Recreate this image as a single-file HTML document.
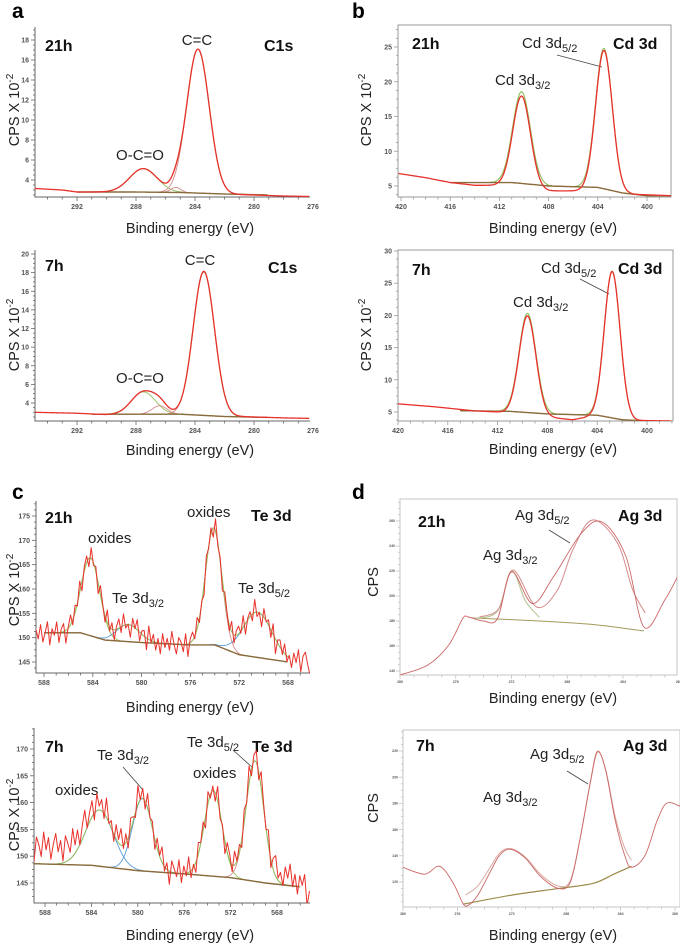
<!DOCTYPE html>
<html><head><meta charset="utf-8">
<style>
html,body{margin:0;padding:0;background:#fff;}
svg{display:block;font-family:"Liberation Sans",sans-serif;}
.lbl{font-size:15px;fill:#222;}
.bold{font-size:16px;font-weight:bold;fill:#111;}
.xt{font-size:14.5px;fill:#222;}
.letter{font-size:21px;font-weight:bold;fill:#000;}
</style></head>
<body>
<svg id="fig" width="680" height="945" viewBox="0 0 680 945">
<!-- panel letters -->
<text class="letter" x="12" y="18">a</text>
<text class="letter" x="352" y="18">b</text>
<text class="letter" x="12" y="499">c</text>
<text class="letter" x="352" y="499">d</text>

<!-- a1 -->
<text class="bold" x="45" y="51">21h</text>
<text class="lbl" x="197" y="45" text-anchor="middle">C=C</text>
<text class="bold" x="264" y="51">C1s</text>
<text class="lbl" x="140" y="160" text-anchor="middle">O-C=O</text>
<text class="xt" x="190" y="233" text-anchor="middle">Binding energy (eV)</text>
<text class="xt" transform="translate(19,110) rotate(-90)" text-anchor="middle">CPS X 10<tspan dy="-6" font-size="10">-2</tspan></text>

<!-- a2 -->
<text class="bold" x="45" y="271">7h</text>
<text class="lbl" x="200" y="265" text-anchor="middle">C=C</text>
<text class="bold" x="268" y="273">C1s</text>
<text class="lbl" x="140" y="383" text-anchor="middle">O-C=O</text>
<text class="xt" x="190" y="455" text-anchor="middle">Binding energy (eV)</text>
<text class="xt" transform="translate(19,335) rotate(-90)" text-anchor="middle">CPS X 10<tspan dy="-6" font-size="10">-2</tspan></text>

<!-- b1 -->
<text class="bold" x="412" y="49">21h</text>
<text class="lbl" x="522" y="48">Cd 3d<tspan dy="4" font-size="11">5/2</tspan></text>
<text class="bold" x="613" y="49">Cd 3d</text>
<text class="lbl" x="495" y="85">Cd 3d<tspan dy="4" font-size="11">3/2</tspan></text>
<line x1="557" y1="55" x2="602" y2="67" stroke="#444" stroke-width="0.8"/>
<text class="xt" x="553" y="233" text-anchor="middle">Binding energy (eV)</text>
<text class="xt" transform="translate(371,110) rotate(-90)" text-anchor="middle">CPS X 10<tspan dy="-6" font-size="10">-2</tspan></text>

<!-- b2 -->
<text class="bold" x="412" y="275">7h</text>
<text class="lbl" x="541" y="273">Cd 3d<tspan dy="4" font-size="11">5/2</tspan></text>
<text class="bold" x="618" y="274">Cd 3d</text>
<text class="lbl" x="513" y="307">Cd 3d<tspan dy="4" font-size="11">3/2</tspan></text>
<line x1="580" y1="279" x2="609" y2="294" stroke="#444" stroke-width="0.8"/>
<text class="xt" x="553" y="454" text-anchor="middle">Binding energy (eV)</text>
<text class="xt" transform="translate(371,335) rotate(-90)" text-anchor="middle">CPS X 10<tspan dy="-6" font-size="10">-2</tspan></text>

<!-- c1 -->
<text class="bold" x="45" y="523">21h</text>
<text class="lbl" x="88" y="543">oxides</text>
<text class="lbl" x="187" y="517">oxides</text>
<text class="bold" x="251" y="521">Te 3d</text>
<text class="lbl" x="112" y="603">Te 3d<tspan dy="4" font-size="11">3/2</tspan></text>
<text class="lbl" x="238" y="593">Te 3d<tspan dy="4" font-size="11">5/2</tspan></text>
<text class="xt" x="190" y="712" text-anchor="middle">Binding energy (eV)</text>
<text class="xt" transform="translate(19,590) rotate(-90)" text-anchor="middle">CPS X 10<tspan dy="-6" font-size="10">-2</tspan></text>

<!-- c2 -->
<text class="bold" x="45" y="752">7h</text>
<text class="lbl" x="97" y="760">Te 3d<tspan dy="4" font-size="11">3/2</tspan></text>
<text class="lbl" x="55" y="795">oxides</text>
<text class="lbl" x="187" y="747">Te 3d<tspan dy="4" font-size="11">5/2</tspan></text>
<text class="bold" x="252" y="752">Te 3d</text>
<text class="lbl" x="193" y="778">oxides</text>
<line x1="123" y1="767" x2="143" y2="790" stroke="#444" stroke-width="0.8"/>
<line x1="233" y1="750" x2="253" y2="768" stroke="#444" stroke-width="0.8"/>
<text class="xt" x="190" y="940" text-anchor="middle">Binding energy (eV)</text>
<text class="xt" transform="translate(19,815) rotate(-90)" text-anchor="middle">CPS X 10<tspan dy="-6" font-size="10">-2</tspan></text>

<!-- d1 -->
<text class="bold" x="418" y="527">21h</text>
<text class="lbl" x="515" y="520">Ag 3d<tspan dy="4" font-size="11">5/2</tspan></text>
<text class="bold" x="618" y="521">Ag 3d</text>
<text class="lbl" x="483" y="560">Ag 3d<tspan dy="4" font-size="11">3/2</tspan></text>
<line x1="549" y1="530" x2="570" y2="543" stroke="#444" stroke-width="0.8"/>
<text class="xt" x="553" y="703" text-anchor="middle">Binding energy (eV)</text>
<text class="xt" transform="translate(378,582) rotate(-90)" text-anchor="middle">CPS</text>

<!-- d2 -->
<text class="bold" x="416" y="751">7h</text>
<text class="lbl" x="530" y="759">Ag 3d<tspan dy="4" font-size="11">5/2</tspan></text>
<text class="bold" x="623" y="751">Ag 3d</text>
<text class="lbl" x="483" y="802">Ag 3d<tspan dy="4" font-size="11">3/2</tspan></text>
<line x1="567" y1="771" x2="588" y2="784" stroke="#444" stroke-width="0.8"/>
<text class="xt" x="553" y="940" text-anchor="middle">Binding energy (eV)</text>
<text class="xt" transform="translate(378,808) rotate(-90)" text-anchor="middle">CPS</text>
</svg>

<script>
// ---------- DATA ----------
// a1 (C1s, 21h)
const a1TailE=[294.85,293,292,290,288,286,284,282,280,278,276.2];
const a1TailV=[3.15,3.0,2.8,2.8,2.8,2.75,2.7,2.6,2.5,2.4,2.35];
const a1BgE=[292,288,285,282,279];
const a1BgV=[2.8,2.8,2.75,2.6,2.5];
const a1PeakC=[287.5,285.3,283.8];
const a1PeakH=[2.35,0.5,14.4];
const a1PeakW=[2.2,0.8,1.8];
const a1XTicks=[292,288,284,280,276];
const a1YTicks=[4,6,8,10,12,14,16,18];
// a2 (C1s, 7h)
const a2TailE=[294.85,292,290,288,284,282,280,278,276.2];
const a2TailV=[3.0,2.9,2.75,2.8,2.8,2.6,2.5,2.4,2.35];
const a2BgE=[291,288,285,282,279];
const a2BgV=[2.8,2.8,2.8,2.55,2.45];
const a2PeakC=[287.5,286.4,283.4];
const a2PeakH=[2.4,0.9,15.4];
const a2PeakW=[1.9,1.2,1.7];
const a2XTicks=[292,288,284,280,276];
const a2YTicks=[4,6,8,10,12,14,16,18,20];
// b1 (Cd 3d, 21h)
const b1TailE=[420.2,418,416,414,412,408,406,404,401,398];
const b1TailV=[6.8,6.2,5.5,5.1,5.1,4.3,4.3,4.4,3.8,3.6];
const b1BgE=[416,411,408,404,402,400,398];
const b1BgV=[5.5,5.5,5.0,4.8,4.0,3.6,3.6];
const b1PeakC=[410.2,403.5];
const b1PeakH=[13.2,20.2];
const b1PeakW=[1.7,1.6];
const b1XTicks=[420,416,412,408,404,400];
const b1YTicks=[5,10,15,20,25];
// b2 (Cd 3d, 7h)
const b2TailE=[420.2,417,414,412,408,406,404.5,401,398];
const b2TailV=[6.3,5.8,5.2,5.0,4.2,3.8,4.3,3.7,3.6];
const b2BgE=[415,411,408,404,402,400,398];
const b2BgV=[5.2,5.1,4.7,4.5,3.8,3.6,3.6];
const b2PeakC=[409.6,402.8];
const b2PeakH=[15.4,22.8];
const b2PeakW=[1.6,1.5];
const b2XTicks=[420,416,412,408,404,400];
const b2YTicks=[5,10,15,20,25,30];
// c1 (Te 3d, 21h)
const c1TailE=[588.66,586,585,583,580,576,574,572,568,566.2];
const c1TailV=[150.5,151,151,149.5,149,148.5,148.5,146.5,145,145.5];
const c1BgE=[588,585,583,580,576,574,572,568];
const c1BgV=[151,151,149.5,149,148.5,148.5,146.5,145];
const c1PeakC=[584.2,581.1,574.1,570.5];
const c1PeakH=[16,3.5,24,9.3];
const c1PeakW=[1.8,2.2,1.6,2.8];
const c1Noise=[1.2,-0.8,2.1,-1.5,0.4,2.6,-2.2,1.1,-0.3,2.4,-1.9,0.8,1.7,-2.6,0.2,2.0,-1.1,1.5,-0.6,2.3,-2.0,0.9,1.4,-1.7,2.2,-0.5,1.0,-2.3,1.8,0.3,-1.4,2.5,-0.9,1.3,-2.1,0.6,1.9,-1.2,2.4,-0.7,0.1,-2.5,1.6,-0.2,2.1,-1.8,0.7,1.2,-2.4,2.8,-0.4,1.5,-1.6,0.9,-2.2,2.0,-0.8,1.1,-1.3,2.6,-0.1,-2.0,1.4,0.5,-1.5,2.2,-2.6,0.8,1.7,-0.6,2.3,-1.0,0.3,-2.1,1.9,-0.3,1.2,-1.9,2.5,-0.7,0.6,-2.3,1.3,0.2,-1.2,2.1,-1.7,0.9,1.6,-0.5,2.4,-2.2,0.4,1.0,-1.4,2.7,-0.9,0.1,-2.5,1.8,-0.2,1.1,-1.6,2.2,-3.0,0.7,1.5,-0.8,2.0,-1.1,0.5,-1.8,1.3,-0.6,2.1,-2.4,0.8,1.6,-1.0,-3.2];
const c1XTicks=[588,584,580,576,572,568];
const c1YTicks=[145,150,155,160,165,170,175];
// c2 (Te 3d, 7h)
const c2TailE=[588.95,588.4,587,585,583,580,576,572,569,567,565.2];
const c2TailV=[151,151.5,152,150.5,149,148,147,146.2,146,146.5,144];
const c2BgE=[589,584,580,576,572,569,566];
const c2BgV=[148.6,148.3,147.3,146.7,146,145,144.3];
const c2PeakC=[583.3,579.6,573.5,569.9];
const c2PeakH=[10.5,13.5,16,22.5];
const c2PeakW=[2.8,2.0,1.8,1.8];
const c2Noise=[-2.1,2.4,0.8,-1.6,2.9,-0.5,1.7,-2.4,0.3,2.2,-1.2,1.0,-2.8,1.9,0.4,-1.5,2.6,-0.9,1.3,-2.2,0.6,2.5,-1.8,0.2,1.6,-2.6,2.0,-0.4,1.1,-1.9,2.7,-1.1,0.5,-2.3,1.8,-0.2,2.3,-1.4,0.9,-2.7,1.5,0.1,-1.7,2.8,-0.7,1.2,-2.1,2.1,-0.6,0.7,-2.5,1.4,-0.3,2.4,-1.3,0.8,-2.9,1.7,0.4,-1.0,2.2,-2.0,1.1,-0.8,2.6,-1.6,0.3,-2.2,1.9,-0.1,1.3,-2.4,2.0,-0.9,0.6,-1.8,2.5,-1.2,0.2,-2.6,1.6,0.9,-1.5,2.3,-0.4,1.0,-2.1,1.8,-0.7,2.7,-1.9,0.5,1.4,-2.3,2.1,-0.2,-1.4,1.7,-2.8,0.8,2.4,-1.1,0.3,-2.0,1.5,-0.6,2.2,-1.7,0.9,-2.5,1.2,-0.3,2.0,-3.5,-0.5];
const c2XTicks=[588,584,580,576,572,568];
const c2YTicks=[145,150,155,160,165,170];
// d1 (Ag 3d, 21h)
const d1DataE=[280,278,276.5,275.5,275.1,274,273,272,270.5,269,267,265.5,263.8,262.5,261,260.1];
const d1DataV=[-0.16,0.24,1.04,2.1,2.16,2.0,2.1,3.96,2.7,3.76,5.5,5.96,4.6,1.76,2.84,3.76];
const d1FitE=[274.3,272.9,271.9,270.2,268.7,267.6,266.2,264.4,263.3,262.4];
const d1FitV=[2.16,2.5,4.04,2.56,3.24,4.84,6.04,5.12,3.24,2.32];
const d1BgE=[274.8,270,266,262.5];
const d1BgV=[2.12,2.0,1.85,1.6];
const d1CompE=[274.6,273,272,271,270];
const d1CompV=[2.1,2.4,4.0,2.8,2.15];
const d1XTicks=[280,276,272,268,264,260];
const d1YTicks=[0,1,2,3,4,5,6];
const d1YLabels=["140","160","180","200","220","240","260"];
// d2 (Ag 3d, 7h)
const d2DataE=[280,278.4,277.3,276.3,275.6,275.2,274.5,273.6,272.9,272.1,271,269.9,268.6,267.7,267,266.2,265.7,265.1,264.4,263.7,263.2,262.2,261.3,260.6,259.6];
const d2DataV=[1.56,1.3,1.6,0.95,0.19,0.11,0.5,1.37,2.02,2.25,1.91,1.22,0.76,0.99,2.6,4.89,5.99,5.27,3.36,2.02,1.56,2.02,3.36,4.01,3.89];
const d2FitE=[275.4,274.5,273.6,272.9,272.1,271,269.9,268.6,267.7,267,266.2,265.7,265.1,264.4,263.7,263.2];
const d2FitV=[0.5,0.85,1.55,2.1,2.28,1.95,1.3,0.85,1.05,2.6,4.85,5.95,5.3,3.5,2.3,1.83];
const d2BgE=[275.6,272,268.6,266,264.5,263.2];
const d2BgV=[0.15,0.5,0.75,0.95,1.3,1.6];
const d2XTicks=[280,276,272,268,264,260];
const d2YTicks=[1,2,3,4,5,6];
const d2YLabels=["120","140","160","180","200","220"];

// ---------- DRAWING ----------
const NS='http://www.w3.org/2000/svg';
const svg=document.getElementById('fig');
const RED='#e8312b', GREEN='#8fbf5c', BROWN='#8a6b3b', BLUE='#5a9bd8', PINK='#d48a8a';
function mk(tag,parent){const e=document.createElementNS(NS,tag);parent.appendChild(e);return e;}
function lin(a,pa,b,pb){return v=>pa+(v-a)*(pb-pa)/(b-a);}
function interp(E,V,e){
  const n=E.length;const asc=E[0]<E[n-1];
  for(let i=0;i<n-1;i++){
    const lo=Math.min(E[i],E[i+1]),hi=Math.max(E[i],E[i+1]);
    if(e>=lo&&e<=hi){const t=(e-E[i])/(E[i+1]-E[i]);return V[i]+t*(V[i+1]-V[i]);}
  }
  if(asc) return e<E[0]?V[0]:V[n-1];
  return e>E[0]?V[0]:V[n-1];
}
function gauss(e,c,h,w){const s=(e-c)/w;return h*Math.exp(-4*Math.LN2*s*s);}
function polyPath(pts){return pts.map((p,i)=>(i?'L':'M')+p[0].toFixed(2)+' '+p[1].toFixed(2)).join(' ');}
function smoothPath(pts){
  let d='M'+pts[0][0].toFixed(2)+' '+pts[0][1].toFixed(2);
  for(let i=0;i<pts.length-1;i++){
    const p0=pts[Math.max(0,i-1)],p1=pts[i],p2=pts[i+1],p3=pts[Math.min(pts.length-1,i+2)];
    const c1=[p1[0]+(p2[0]-p0[0])/6,p1[1]+(p2[1]-p0[1])/6];
    const c2=[p2[0]-(p3[0]-p1[0])/6,p2[1]-(p3[1]-p1[1])/6];
    d+=' C'+c1[0].toFixed(2)+' '+c1[1].toFixed(2)+' '+c2[0].toFixed(2)+' '+c2[1].toFixed(2)+' '+p2[0].toFixed(2)+' '+p2[1].toFixed(2);
  }
  return d;
}
let clipId=0;
function setupPanel(id,f,xs,ys,xTicks,yTicks,yLabels,minorX,tiny){
  const g=mk('g',svg);
  
  
  const X=lin(xs[0],xs[1],xs[2],xs[3]), Y=lin(ys[0],ys[1],ys[2],ys[3]);
  const axisCol=f.box?(tiny?'#c4c4c4':'#9a9a9a'):'#666';
  if(f.box){
    const r=mk('rect',g);
    r.setAttribute('x',f.l);r.setAttribute('y',f.t);r.setAttribute('width',f.r-f.l);r.setAttribute('height',f.b-f.t);
    r.setAttribute('fill','none');r.setAttribute('stroke',axisCol);r.setAttribute('stroke-width','1');
    
    
  } else {
    const ax=mk('path',g);
    ax.setAttribute('d','M'+f.l+' '+f.t+' L'+f.l+' '+f.b+' L'+f.r+' '+f.b);
    ax.setAttribute('fill','none');ax.setAttribute('stroke',axisCol);ax.setAttribute('stroke-width','1');
    
    
  }
  const fs=tiny?3.5:7;
  // x ticks
  const eL=Math.max(xs[0]+(f.l-xs[1])*(xs[2]-xs[0])/(xs[3]-xs[1]),0);
  const eMax=Math.max(...xTicks)+2, eMin=Math.min(...xTicks)-2;
  for(let e=Math.ceil(eMin);e<=eMax;e+=minorX){
    const px=X(e); if(px<f.l-0.5||px>f.r+0.5) continue;
    const major=xTicks.includes(e);
    const t=mk('line',g);
    t.setAttribute('x1',px);t.setAttribute('x2',px);t.setAttribute('y1',f.b);t.setAttribute('y2',f.b+(major?4:2.5));
    t.setAttribute('stroke',axisCol);t.setAttribute('stroke-width','0.8');
    
    
  }
  xTicks.forEach(e=>{
    const px=X(e); if(px<f.l-3||px>f.r+3) return;
    const tx=mk('text',g);
    tx.setAttribute('x',px);tx.setAttribute('y',f.b+(tiny?8:12));tx.setAttribute('text-anchor','middle');
    tx.setAttribute('font-size',fs);tx.setAttribute('font-weight','bold');tx.setAttribute('fill','#555');
    tx.textContent=String(e);
    
    
  });
  const ystep=(yTicks[1]-yTicks[0])/4;
  for(let v=yTicks[0]-ystep*4;v<=yTicks[yTicks.length-1]+ystep*4;v+=ystep){
    const py=Y(v); if(py<f.t||py>f.b) continue;
    const major=yTicks.some(t=>Math.abs(t-v)<1e-6);
    const t=mk('line',g);
    t.setAttribute('x1',f.l);t.setAttribute('x2',f.l-(major?4:2));t.setAttribute('y1',py);t.setAttribute('y2',py);
    t.setAttribute('stroke',axisCol);t.setAttribute('stroke-width','0.8');
    
    
  }
  yTicks.forEach((v,i)=>{
    const py=Y(v);
    const tx=mk('text',g);
    tx.setAttribute('x',f.l-(tiny?5:6));tx.setAttribute('y',py+(tiny?1.2:2.5));tx.setAttribute('text-anchor','end');
    tx.setAttribute('font-size',fs);tx.setAttribute('font-weight','bold');tx.setAttribute('fill','#555');
    tx.textContent=yLabels?yLabels[i]:String(v);
    
    
  });
  const cp=mk('clipPath',svg);const cid='clip'+(clipId++);cp.setAttribute('id',cid);
  const cr=mk('rect',cp);cr.setAttribute('x',f.l);cr.setAttribute('y',f.t);cr.setAttribute('width',f.r-f.l);cr.setAttribute('height',f.b-f.t);
  const pg=mk('g',g);pg.setAttribute('clip-path','url(#'+cid+')');
  
  
  return {g:pg,X,Y,f};
}
function addPath(P,d,color,w,name){
  const p=mk('path',P.g);
  p.setAttribute('d',d);p.setAttribute('fill','none');p.setAttribute('stroke',color);
  p.setAttribute('stroke-width',w);p.setAttribute('stroke-linejoin','round');
  
  
}
function eRange(P){const f=P.f;const a=P.X.inv(f.l),b=P.X.inv(f.r);return [a,b];}
function peakPanel(id,P,tailE,tailV,bgE,bgV,pc,ph,pw,compCols,noise){
  const eL=tailE[0], eR=tailE[tailE.length-1];
  // fitted components
  const bL=bgE[0], bR=bgE[bgE.length-1];
  pc.forEach((c,k)=>{
    const pts=[];
    for(let e=bL;e>=bR;e-=0.05){const v=interp(bgE,bgV,e)+gauss(e,c,ph[k],pw[k]);pts.push([P.X(e),P.Y(v)]);}
    addPath(P,polyPath(pts),compCols[k],0.9,id+'-component-peak-'+(k+1));
  });
  // total fit
  const fp=[];
  for(let e=bL;e>=bR;e-=0.05){let v=interp(bgE,bgV,e);pc.forEach((c,k)=>v+=gauss(e,c,ph[k],pw[k]));fp.push([P.X(e),P.Y(v)]);}
  addPath(P,polyPath(fp),GREEN,1,id+'-fit-envelope');
  // background
  const bp=[];
  for(let e=bL;e>=bR;e-=0.1){bp.push([P.X(e),P.Y(interp(bgE,bgV,e))]);}
  addPath(P,polyPath(bp),BROWN,1.4,id+'-background');
  // experimental
  const dp=[];
  if(noise){
    const n=noise.length;
    for(let i=0;i<n;i++){const e=eL+(eR-eL)*i/(n-1);let v=interp(tailE,tailV,e)+noise[i];pc.forEach((c,k)=>v+=gauss(e,c,ph[k],pw[k]));dp.push([P.X(e),P.Y(v)]);}
  } else {
    for(let e=eL;e>=eR;e-=0.05){let v=interp(tailE,tailV,e);pc.forEach((c,k)=>v+=gauss(e,c,ph[k],pw[k]));dp.push([P.X(e),P.Y(v)]);}
  }
  addPath(P,polyPath(dp),RED,noise?1:1.3,id+'-experimental-spectrum');
}
function ptsOf(P,E,V){return E.map((e,i)=>[P.X(e),P.Y(V[i])]);}

// a1
let P=setupPanel('a1',{l:35,t:27,r:310,b:197,box:false},[292,77,280,254],[4,180,18,40],a1XTicks,a1YTicks,null,1,false);
peakPanel('a1',P,a1TailE,a1TailV,a1BgE,a1BgV,a1PeakC,a1PeakH,a1PeakW,[GREEN,PINK,PINK],null);
// a2
P=setupPanel('a2',{l:35,t:250,r:310,b:421,box:false},[292,77,280,254],[4,403,20,254],a2XTicks,a2YTicks,null,1,false);
peakPanel('a2',P,a2TailE,a2TailV,a2BgE,a2BgV,a2PeakC,a2PeakH,a2PeakW,[GREEN,PINK,PINK],null);
// b1
P=setupPanel('b1',{l:398,t:25,r:671,b:197,box:true},[420,401,400,647],[5,186,25,47],b1XTicks,b1YTicks,null,1,false);
peakPanel('b1',P,b1TailE,b1TailV,b1BgE,b1BgV,b1PeakC,b1PeakH,b1PeakW,[GREEN,PINK],null);
// b2
P=setupPanel('b2',{l:398,t:250,r:673,b:421,box:true},[420,398,400,647],[5,412,30,251],b2XTicks,b2YTicks,null,1,false);
peakPanel('b2',P,b2TailE,b2TailV,b2BgE,b2BgV,b2PeakC,b2PeakH,b2PeakW,[GREEN,PINK],null);
// c1
P=setupPanel('c1',{l:36,t:501,r:310,b:673,box:false},[588,44,568,288],[145,662,175,516],c1XTicks,c1YTicks,null,1,false);
peakPanel('c1',P,c1TailE,c1TailV,c1BgE,c1BgV,c1PeakC,c1PeakH,c1PeakW,[GREEN,BLUE,PINK,BLUE],c1Noise);
// c2
P=setupPanel('c2',{l:34,t:728,r:310,b:903,box:false},[588,45,568,277],[145,883,170,749],c2XTicks,c2YTicks,null,1,false);
peakPanel('c2',P,c2TailE,c2TailV,c2BgE,c2BgV,c2PeakC,c2PeakH,c2PeakW,[BLUE,BLUE,GREEN,PINK],c2Noise);
// d1
P=setupPanel('d1',{l:400,t:499,r:677,b:675,box:true},[280,400,264,623],[0,671,6,521],d1XTicks,d1YTicks,d1YLabels,1,true);
addPath(P,smoothPath(ptsOf(P,d1BgE,d1BgV)),'#a39a5a',1,'d1-background');
addPath(P,smoothPath(ptsOf(P,d1CompE,d1CompV)),'#b9c99a',1.2,'d1-component-peak');
addPath(P,smoothPath(ptsOf(P,d1FitE,d1FitV)),PINK,1,'d1-fit-envelope');
addPath(P,smoothPath(ptsOf(P,d1DataE,d1DataV)),'#cc6666',0.9,'d1-experimental-spectrum');
// d2
P=setupPanel('d2',{l:403,t:730,r:680,b:907,box:true},[280,403,260,675],[1,882,6,751],d2XTicks,d2YTicks,d2YLabels,1,true);
addPath(P,smoothPath(ptsOf(P,d2BgE,d2BgV)),'#9a8a4a',1.2,'d2-background');
addPath(P,smoothPath(ptsOf(P,d2FitE,d2FitV)),'#d9a8a0',1,'d2-fit-envelope');
addPath(P,smoothPath(ptsOf(P,d2DataE,d2DataV)),'#cc6666',0.9,'d2-experimental-spectrum');
</script>
</body></html>
